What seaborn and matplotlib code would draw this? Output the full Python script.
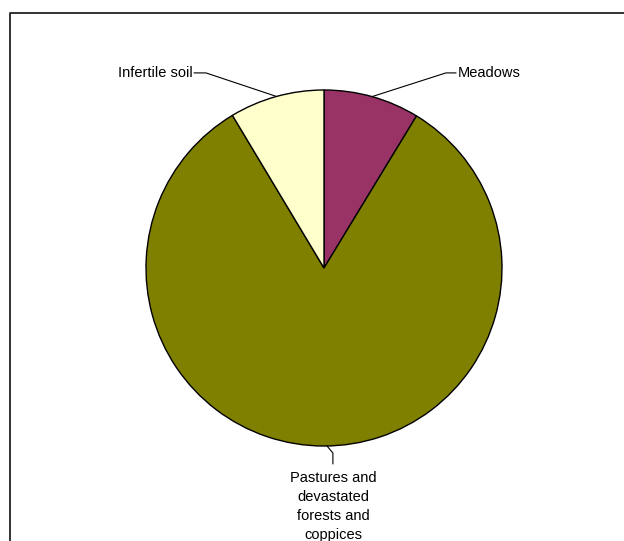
import numpy as np
import matplotlib
matplotlib.use("Agg")
import matplotlib.pyplot as plt
import seaborn as sns
from matplotlib.lines import Line2D

# land use shares (%), clockwise from the top
categories = ["Meadows", "Pastures and\ndevastated\nforests and\ncoppices", "Infertile soil"]
values = [8.7, 82.7, 8.6]
colors = ["#993366", "#808000", "#FFFFCC"]

sns.set_style("white")
plt.rcParams['font.family'] = ['Liberation Sans', 'DejaVu Sans']
plt.rcParams['text.color'] = 'black'

fig = plt.figure(figsize=(6.24, 5.41), dpi=100)
ax = fig.add_axes([0, 0, 1, 1])

ax.pie(values, colors=colors, startangle=90, counterclock=False,
       wedgeprops=dict(edgecolor="black", linewidth=1.0))

# same pixel scale on both axes (radius ~178 px)
ax.set_xlim(-324 / 178, 300 / 178)
ax.set_ylim(-273 / 178, 268 / 178)
ax.set_aspect('auto')
ax.axis('off')

# mid angle of each wedge, clockwise from top
cum = np.cumsum([0] + values)
mids = [(cum[i] + cum[i + 1]) / 2 / sum(values) * 2 * np.pi for i in range(len(values))]

def edge(a):
    return np.sin(a), np.cos(a)

fs = 10.5

# Meadows
x0, y0 = edge(mids[0])
ax.plot([x0, 0.685, 0.742], [y0, 1.096, 1.096], color="black", lw=0.8)
ax.text(0.753, 1.096, categories[0], ha="left", va="center", fontsize=fs)

# Infertile soil
x0, y0 = edge(mids[2])
ax.plot([x0, -0.663, -0.730], [y0, 1.096, 1.096], color="black", lw=0.8)
ax.text(-0.736, 1.096, categories[2], ha="right", va="center", fontsize=fs)

# Pastures
ax.plot([0.017, 0.05, 0.05], [-1.0, -1.039, -1.101], color="black", lw=0.8)
ax.text(0.05, -1.14, categories[1], ha="center", va="top", fontsize=fs,
        linespacing=1.45, multialignment="center")

# chart area border (top-left corner visible)
xl = 10 / 624
yt = 1 - 13 / 541
fig.add_artist(Line2D([xl, xl, 1.02], [-0.02, yt, yt], transform=fig.transFigure,
                      color="#222222", lw=1.3))

fig.savefig("out.png", dpi=100)
